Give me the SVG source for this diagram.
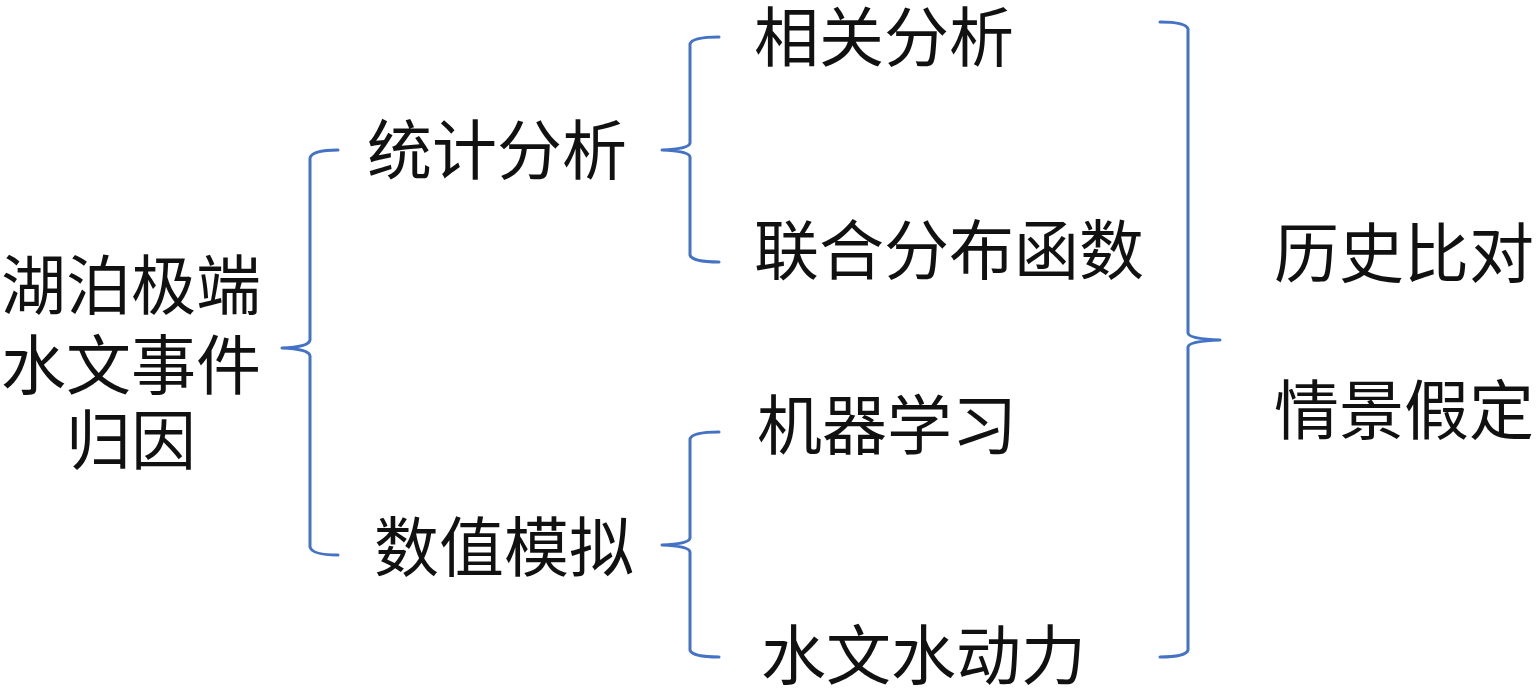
<svg xmlns="http://www.w3.org/2000/svg" width="1536" height="691" viewBox="0 0 1536 691">
<style>
.t{font-family:"Noto Sans CJK SC","Noto Sans CJK JP",sans-serif;font-size:65px;fill:#111;}
.b{fill:none;stroke:#4472C4;stroke-width:3;stroke-linejoin:round;stroke-linecap:round;}
</style>
<rect width="1536" height="691" fill="#fff"/>
<g id="connectors">
<path class="b" d="M338,150 Q312,150 310,158 L310,340 Q309,347 282,348 Q309,349 310,356 L310,547 Q312,555 338,555"/>
<path class="b" d="M719,37 Q692,37 690,44 L690,143 Q689,149 662,150 Q689,151 690,157 L690,255 Q692,262 719,262"/>
<path class="b" d="M719,432 Q692,432 690,439 L690,538 Q689,544 662,545 Q689,546 690,552 L690,650 Q692,657 719,657"/>
<path class="b" d="M1160,22 Q1186,22 1188,29 L1188,333 Q1189,339 1220,340 Q1189,341 1188,347 L1188,650 Q1186,657 1160,657"/>
</g>
<g id="root"><text class="t" x="131" y="309" text-anchor="middle">湖泊极端</text><text class="t" x="131" y="389" text-anchor="middle">水文事件</text><text class="t" x="131" y="464" text-anchor="middle">归因</text></g>
<g id="stat"><text class="t" x="367" y="174">统计分析</text></g>
<g id="num"><text class="t" x="374" y="571">数值模拟</text></g>
<g id="corr"><text class="t" x="754" y="61">相关分析</text></g>
<g id="joint"><text class="t" x="754" y="274">联合分布函数</text></g>
<g id="ml"><text class="t" x="757" y="449">机器学习</text></g>
<g id="hydro"><text class="t" x="761" y="679">水文水动力</text></g>
<g id="hist"><text class="t" x="1274" y="277">历史比对</text></g>
<g id="scen"><text class="t" x="1274" y="434">情景假定</text></g>
</svg>
